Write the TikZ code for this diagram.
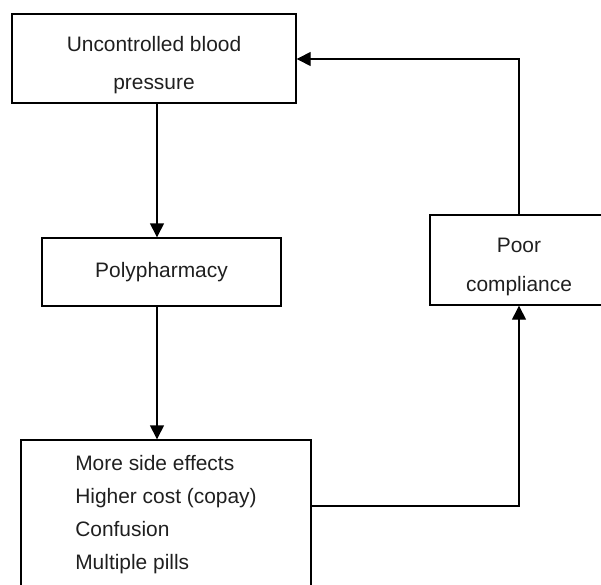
\documentclass[tikz,border=0pt]{standalone}
\usepackage{fontspec}
\setmainfont{Liberation Sans}
\usetikzlibrary{arrows.meta}

\begin{document}
\begin{tikzpicture}[x=1bp,y=-1bp,
    box/.style={draw, line width=1.4bp, align=center, inner sep=0pt,
      font=\fontsize{21}{38.5}\selectfont, text=black!88},
    arr/.style={line width=1.4bp, -{Triangle[length=14bp,width=14bp]}}]
  \useasboundingbox (0,0) rectangle (601,585);
  \clip (0,0) rectangle (601,585);
  % Define boxes
  \node[box, minimum width=284bp, minimum height=89bp] (bp) at (154,58.5) {\rule{0pt}{28bp}Uncontrolled blood\\pressure};
  \node[box, minimum width=239bp, minimum height=68bp] (poly) at (161.5,272) {Polypharmacy};
  \node[box, minimum width=290bp, minimum height=149bp, align=left,
    font=\fontsize{21}{33}\selectfont] (effects) at (166,514.5)
    {More side effects\\Higher cost (copay)\\Confusion\\Multiple pills};
  \node[box, minimum width=178bp, minimum height=90bp] (poor) at (519,260) {\rule{0pt}{28bp}Poor\\compliance};
  % Bend points
  \coordinate (spine) at (157,0);
  \coordinate (loopR) at (519,506);
  \coordinate (loopT) at (519,59);
  % Arrows
  \draw[arr] (bp.south -| spine) -- (poly.north -| spine);
  \draw[arr] (poly.south -| spine) -- (effects.north -| spine);
  \draw[arr] (effects.east |- loopR) -- (loopR) -- (poor.south);
  \draw[arr] (poor.north) -- (loopT) -- (bp.east |- loopT);
\end{tikzpicture}
\end{document}
